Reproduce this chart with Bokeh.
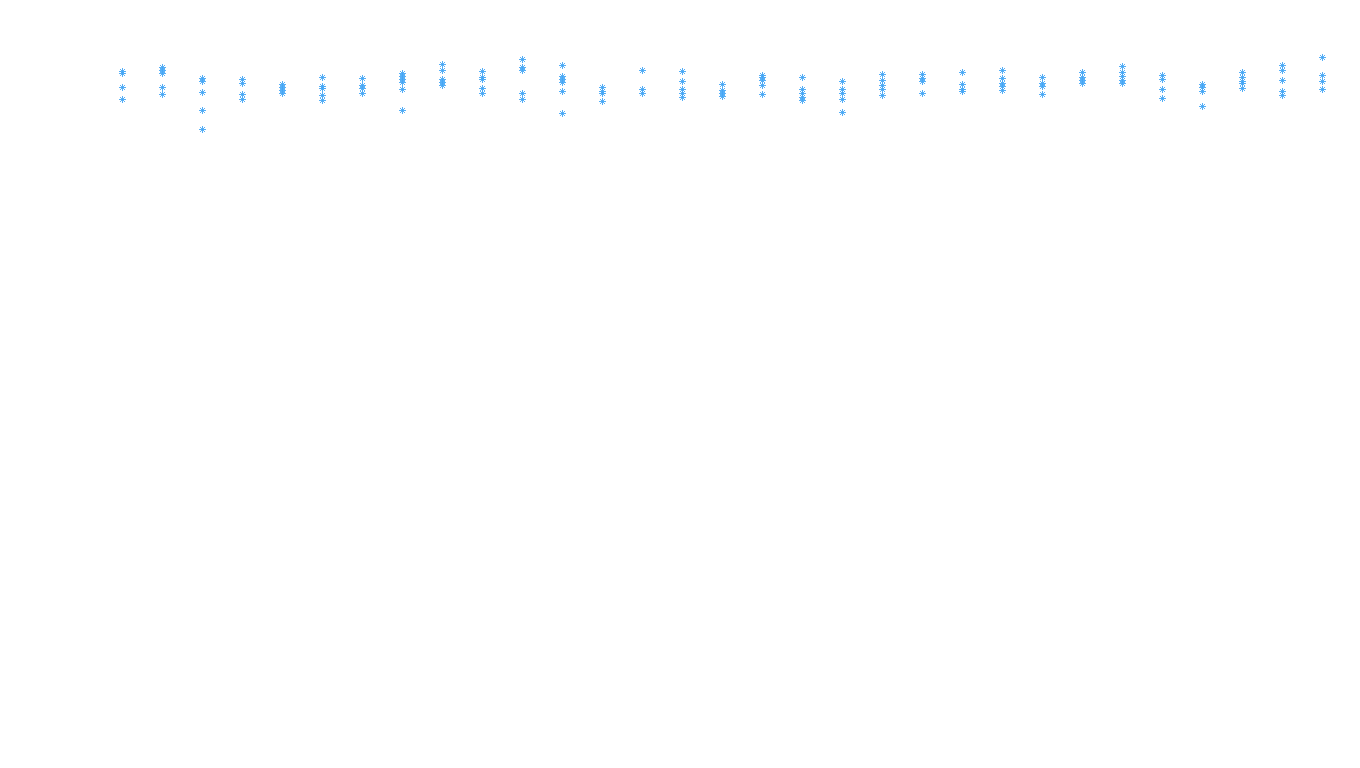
from bokeh.plotting import figure
from bokeh.models import Range1d, ColumnDataSource
from bokeh.embed import file_html
from bokeh.resources import INLINE

# Category index (1..31) and the values observed at each category
categories = list(range(1, 32))
values = [
    [689, 687, 673, 661],
    [693, 690, 687, 673, 666],
    [682, 679, 668, 650, 631],
    [681, 677, 666, 661],
    [676, 673, 670, 667],
    [683, 674, 672, 665, 660],
    [682, 675, 672, 667],
    [687, 684, 681, 678, 671, 650],
    [696, 690, 681, 678, 675],
    [689, 683, 681, 672, 667],
    [701, 693, 690, 667, 661],
    [695, 684, 681, 678, 669, 647],
    [673, 669, 667, 659],
    [690, 671, 667],
    [689, 679, 671, 667, 663],
    [676, 670, 667, 664],
    [685, 683, 680, 675, 666],
    [683, 671, 667, 663, 660],
    [679, 671, 667, 661, 648],
    [686, 680, 675, 671, 665],
    [686, 682, 679, 667],
    [688, 676, 671, 669],
    [690, 682, 677, 674, 670],
    [683, 677, 674, 666],
    [688, 683, 680, 677],
    [694, 688, 684, 680, 677],
    [685, 681, 671, 662],
    [676, 673, 669, 654],
    [688, 683, 679, 677, 672],
    [695, 690, 680, 669, 665],
    [703, 685, 679, 671],
]

xs, ys = [], []
for c, vals in zip(categories, values):
    for v in vals:
        xs.append(c)
        ys.append(v)

source = ColumnDataSource(data=dict(x=xs, y=ys))

p = figure(width=1344, height=752, output_backend="svg", toolbar_location=None,
           x_range=Range1d(-2.05, 31.55), y_range=Range1d(8, 760),
           min_border=0, min_border_left=0, min_border_right=0,
           min_border_top=0, min_border_bottom=0)
p.axis.visible = False
p.xgrid.visible = False
p.ygrid.visible = False
p.outline_line_color = None
p.background_fill_color = "white"
p.border_fill_color = "white"

p.scatter("x", "y", source=source, marker="asterisk", size=7,
          line_color="#42a5f5", line_width=1, line_alpha=0.9)

open("out.html", "w").write(file_html(p, INLINE))
